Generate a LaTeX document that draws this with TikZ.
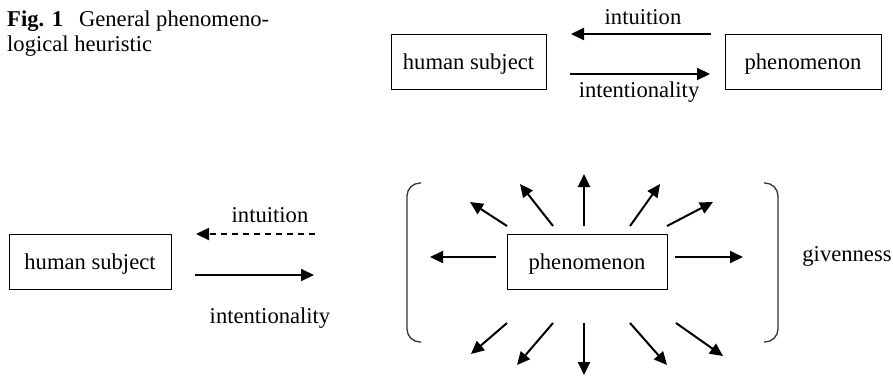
\documentclass[tikz,border=0pt]{standalone}
\usepackage{fontspec}
\setmainfont{Liberation Serif}
\usetikzlibrary{arrows.meta}
\tikzset{
  box/.style={draw, line width=1pt, inner sep=0pt, text height=18pt, text depth=3pt},
  lbl/.style={anchor=base, inner sep=0pt},
  arr/.style={line width=2pt, -{Triangle[length=13pt,width=12pt]}},
  dasharr/.style={arr, dash pattern=on 6pt off 5pt},
  brk/.style={line width=1.3pt, draw=black!80, rounded corners=13pt}
}
\begin{document}
\begin{tikzpicture}[x=1pt,y=-1pt,font=\fontsize{22.6}{26}\selectfont]
\useasboundingbox (0,0) rectangle (893,376);
% caption
\node[anchor=base west, inner sep=0pt] (cap1) at (7,26)
  {\textbf{Fig. 1}\hspace{16pt}General phenomeno-};
\node[anchor=base west, inner sep=0pt] (cap2) at (7,51.5) {logical heuristic};
% top diagram
\node[box, minimum width=155pt, minimum height=55pt] (hs1) at (468.5,61.5) {human subject};
\node[box, minimum width=156pt, minimum height=55pt] (ph1) at (803,61.5) {phenomenon};
\coordinate (t1a) at (711,34); \coordinate (t1b) at (571,34);
\coordinate (t2a) at (570,74); \coordinate (t2b) at (710,74);
\draw[arr] (t1a) -- (t1b);
\draw[arr] (t2a) -- (t2b);
\node[lbl] (in1) at (643,24) {intuition};
\node[lbl] (it1) at (639,97) {intentionality};
% bottom diagram
\node[box, minimum width=162pt, minimum height=55pt] (hs2) at (90,261.5) {human subject};
\node[box, minimum width=160pt, minimum height=55pt] (ph2) at (587,261.5) {phenomenon};
\coordinate (b1a) at (315,234); \coordinate (b1b) at (196,234);
\coordinate (b2a) at (195,275); \coordinate (b2b) at (314,275);
\draw[dasharr] (b1a) -- (b1b);
\draw[arr] (b2a) -- (b2b);
\node[lbl] (in2) at (270,222.5) {intuition};
\node[lbl] (it2) at (270,323) {intentionality};
% radial arrows
\foreach \n/\sx/\sy/\ex/\ey in {
  l/496/257/430/257, r/675/257/743/257,
  u/584/226/584/174, d/584/323/584/375,
  ul1/507/226/470/202, ul2/553/226/520/184,
  ur1/630/226/660/184, ur2/667/226/713/202,
  dl1/507/323/471/354, dl2/553/323/517/365,
  dr1/630/323/667/365, dr2/676/323/723/356}{
  \coordinate (s\n) at (\sx,\sy);
  \coordinate (e\n) at (\ex,\ey);
  \draw[arr] (s\n) -- (e\n);
}
% brackets
\coordinate (lb1) at (421,183); \coordinate (lb2) at (407,183);
\coordinate (lb3) at (407,342); \coordinate (lb4) at (421,342);
\draw[brk] (lb1) -- (lb2) -- (lb3) -- (lb4);
\coordinate (rb1) at (764,183); \coordinate (rb2) at (778,183);
\coordinate (rb3) at (778,342); \coordinate (rb4) at (764,342);
\draw[brk] (rb1) -- (rb2) -- (rb3) -- (rb4);
\node[lbl] (giv) at (847,261) {givenness};
\end{tikzpicture}
\end{document}
